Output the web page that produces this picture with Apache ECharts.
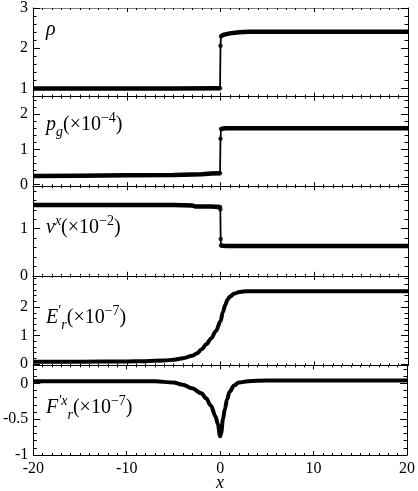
<!DOCTYPE html>
<html><head><meta charset="utf-8">
<script src="https://cdn.jsdelivr.net/npm/echarts@6/dist/echarts.min.js"></script>
<style>html,body{margin:0;padding:0;background:#fff}#c{width:418px;height:491px}</style>
</head><body><div id="c"></div>
<script>
// ---- data ----
const xTickLabels = [-20, -10, 0, 10, 20];

const rhoX = [-20, -10, -5, -0.05, 0, 0.05, 0.4, 1, 2, 3, 5, 20];
const rhoY = [1.0, 1.0, 1.0, 1.01, 2.06, 2.3, 2.34, 2.37, 2.4, 2.41, 2.41, 2.41];

const pgX = [-20, -15, -10, -5, -2, -1, -0.05, 0, 0.05, 0.5, 1, 3, 20];
const pgY = [0.24, 0.25, 0.26, 0.27, 0.29, 0.31, 0.32, 1.3, 1.58, 1.6, 1.6, 1.6, 1.6];

const vX = [-20, -10, -5, -3, -2.7, -1, -0.05, -0.02, 0.02, 0.05, 0.6, 20];
const vY = [1.5, 1.5, 1.5, 1.49, 1.47, 1.47, 1.46, 1.41, 0.78, 0.64, 0.63, 0.63];

const eX = [-20, -15, -10, -8, -6, -5, -4, -3, -2.5, -2, -1.5, -1, -0.5, 0, 0.25, 0.5, 0.75, 1, 1.5, 2, 2.5, 3, 4, 6, 10, 20];
const eY = [0.08, 0.08, 0.09, 0.1, 0.12, 0.15, 0.2, 0.29, 0.38, 0.52, 0.7, 0.9, 1.15, 1.5, 1.82, 2.07, 2.26, 2.37, 2.48, 2.53, 2.55, 2.56, 2.56, 2.56, 2.56, 2.56];

const fX = [-20, -10, -7, -5, -4, -3, -2, -1.5, -1, -0.5, -0.25, 0, 0.1, 0.3, 0.5, 0.75, 1, 1.5, 2, 3, 5, 10, 20];
const fY = [0.03, 0.03, 0.03, 0.01, -0.02, -0.07, -0.14, -0.21, -0.31, -0.46, -0.57, -0.74, -0.7, -0.5, -0.36, -0.22, -0.12, -0.03, 0.01, 0.03, 0.04, 0.04, 0.04];

const rhoTicks = [1, 2, 3];
const pgTicks = [0, 1, 2];
const vTicks = [0, 1];
const eTicks = [0, 1, 2];
const fTicks = [-1, -0.5, 0];

// ---- layout ----
const L = 33, R = 408, TOP = 7, PH = 89.6;
const panels = [
  {x: rhoX, y: rhoY, min: 0.8, max: 3.0, ticks: rhoTicks, minor: 0.2, step: true},
  {x: pgX, y: pgY, min: -0.05, max: 2.5, ticks: pgTicks, minor: 0.2, step: true},
  {x: vX, y: vY, min: 0, max: 1.9, ticks: vTicks, minor: 0.2, step: true},
  {x: eX, y: eY, min: -0.05, max: 3.1, ticks: eTicks, minor: 0.2, step: false},
  {x: fX, y: fY, min: -1, max: 0.25, ticks: fTicks, minor: 0.1, step: false}
];
const FONT = 'Liberation Serif';
const grids = [], xAxes = [], yAxes = [], series = [];
function minorVals(p) {
  const out = [];
  const s = Math.ceil(p.min / p.minor - 1e-9);
  for (let k = s; k * p.minor <= p.max + 1e-9; k++) out.push(Math.round(k * p.minor * 1000) / 1000);
  return out;
}
panels.forEach((p, i) => {
  grids.push({left: L, width: R - L, top: TOP + PH * i, height: PH});
  ['bottom', 'top'].forEach(pos => {
    xAxes.push({
      gridIndex: i, type: 'value', min: -20, max: 20, interval: 10, position: pos,
      axisLine: {show: true, onZero: false, lineStyle: {color: (i === 0 && pos === 'top') ? '#808080' : '#000', width: 1}},
      axisTick: {show: true, inside: true, length: 4, lineStyle: {color: '#000'}},
      minorTick: {show: true, splitNumber: 10, length: 2, lineStyle: {color: '#000'}},
      axisLabel: {show: i === 4 && pos === 'bottom', color: '#000', fontFamily: FONT, fontSize: 16, margin: 6,
        customValues: xTickLabels, showMinLabel: true, showMaxLabel: true},
      splitLine: {show: false}, minorSplitLine: {show: false}
    });
  });
  const mv = minorVals(p);
  ['left', 'right'].forEach(pos => {
    yAxes.push({
      gridIndex: i, type: 'value', min: p.min, max: p.max, position: pos,
      axisLine: {show: true, onZero: false, lineStyle: {color: '#000', width: 1}},
      axisTick: {show: true, inside: true, length: 7, customValues: p.ticks, lineStyle: {color: '#000'}},
      axisLabel: {show: pos === 'left', customValues: p.ticks, color: '#000', fontFamily: FONT, fontSize: 16, margin: 5,
        showMinLabel: true, showMaxLabel: true, hideOverlap: false},
      splitLine: {show: false}
    });
    yAxes.push({
      gridIndex: i, type: 'value', min: p.min, max: p.max, position: pos,
      axisLine: {show: false, onZero: false},
      axisTick: {show: true, inside: true, length: 3.5, customValues: mv, lineStyle: {color: '#000'}},
      axisLabel: {show: false},
      splitLine: {show: false}
    });
  });
  const pts = p.x.map((xv, k) => [xv, p.y[k]]);
  if (p.step) {
    series.push({type: 'line', xAxisIndex: 2 * i, yAxisIndex: 4 * i, data: pts, symbol: 'none',
      lineStyle: {color: '#000', width: 1.8}, silent: true, animation: false});
    const thick = [];
    pts.forEach(pt => {
      if (Math.abs(pt[0]) < 0.04) { if (thick.length && thick[thick.length - 1][1] !== null) thick.push([0, null]); }
      else thick.push(pt);
    });
    series.push({type: 'line', xAxisIndex: 2 * i, yAxisIndex: 4 * i, data: thick, symbol: 'none', connectNulls: false,
      lineStyle: {color: '#000', width: 4.5}, silent: true, animation: false});
    series.push({type: 'scatter', xAxisIndex: 2 * i, yAxisIndex: 4 * i,
      data: pts.filter(pt => Math.abs(pt[0]) <= 0.06), symbolSize: 4.5,
      itemStyle: {color: '#000'}, silent: true, animation: false});
  } else {
    series.push({type: 'line', xAxisIndex: 2 * i, yAxisIndex: 4 * i, data: pts, symbol: 'none',
      smooth: 0.35, smoothMonotone: 'x',
      lineStyle: {color: '#000', width: 4}, silent: true, animation: false});
  }
});

const rich = {
  i: {fontFamily: FONT, fontStyle: 'italic', fontSize: 20, lineHeight: 28, color: '#000'},
  n: {fontFamily: FONT, fontSize: 20, lineHeight: 28, color: '#000'},
  sub: {fontFamily: FONT, fontStyle: 'italic', fontSize: 14, lineHeight: 13, verticalAlign: 'bottom', color: '#000'},
  sup: {fontFamily: FONT, fontSize: 14, lineHeight: 13, verticalAlign: 'top', color: '#000'},
  supi: {fontFamily: FONT, fontStyle: 'italic', fontSize: 14, lineHeight: 13, verticalAlign: 'top', color: '#000'}
};
function lbl(text, x, y) {
  return {type: 'text', left: x, top: y, silent: true, style: {text: text, rich: rich, fill: '#000'}};
}
const graphic = [
  lbl('{i|ρ}', 46, 20),
  lbl('{i|p}{sub|g}{n|(×10}{sup|−4}{n|)}', 46, 111),
  lbl('{i|v}{supi|x}{n|(×10}{sup|−2}{n|)}', 46, 214),
  lbl('{i|E}{sup|′}{sub|r}{n|(×10}{sup|−7}{n|)}', 46, 304),
  lbl('{i|F}{supi|′x}{sub|r}{n|(×10}{sup|−7}{n|)}', 46, 394),
  {type: 'text', left: 216, top: 474, silent: true,
    style: {text: 'x', fontFamily: FONT, fontStyle: 'italic', fontSize: 18, fill: '#000'}}
];

const chart = echarts.init(document.getElementById('c'), null, {renderer: 'canvas'});
chart.setOption({animation: false, grid: grids, xAxis: xAxes, yAxis: yAxes, series: series, graphic: graphic});
</script>
</body></html>
